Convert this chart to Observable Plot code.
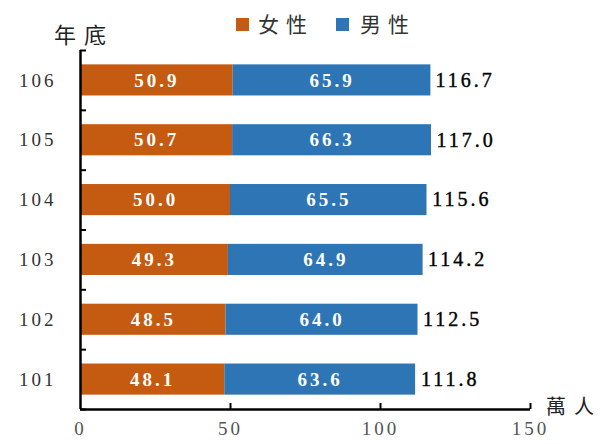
<!DOCTYPE html>
<html><head><meta charset="utf-8">
<script src="https://cdn.jsdelivr.net/npm/d3@7"></script>
<script src="https://cdn.jsdelivr.net/npm/@observablehq/plot@0.6"></script>
<style>
body{margin:0;background:#fff;}
#wrap{position:relative;width:601px;height:444px;overflow:hidden;}
#top{position:relative;height:40px;}
.cjk{font-family:"Noto Sans CJK TC",sans-serif;position:absolute;color:#222;line-height:1;white-space:nowrap;}
.sw{position:absolute;width:13px;height:13px;}
#chart svg text{letter-spacing:3px;}
</style></head><body>
<div id="wrap">
  <div id="top">
    <div class="cjk" style="left:54px;top:22px;font-size:22px;letter-spacing:8px;">年底</div>
    <div class="sw" style="left:236px;top:18px;background:#C55A11;"></div>
    <div class="cjk" style="left:258px;top:13px;font-size:21px;letter-spacing:7px;color:#333;">女性</div>
    <div class="sw" style="left:336px;top:18px;background:#2E75B6;"></div>
    <div class="cjk" style="left:360px;top:13px;font-size:21px;letter-spacing:7px;color:#333;">男性</div>
  </div>
  <div id="chart"></div>
  <div class="cjk" style="left:546px;top:396px;font-size:20px;">萬<span style="margin-left:8px;">人</span></div>
</div>
<script>
const years = [101, 102, 103, 104, 105, 106];
const female = [48.1, 48.5, 49.3, 50.0, 50.7, 50.9];
const male = [63.6, 64.0, 64.9, 65.5, 66.3, 65.9];
const total = [111.8, 112.5, 114.2, 115.6, 117.0, 116.7];
const xTicks = [0, 50, 100, 150];

const data = years.map((y, i) => ({year: y, female: female[i], male: male[i], total: total[i]}));
const half = 0.26;
const edges = [years[0] - 0.5, ...years.map(y => y + 0.5)];

const plot = Plot.plot({
  width: 601, height: 404,
  marginTop: 10, marginBottom: 35, marginLeft: 80, marginRight: 71,
  x: {domain: [0, 150]},
  y: {domain: [years[0] - 0.5, years[years.length - 1] + 0.5]},
  style: {fontFamily: "'Liberation Serif', serif", fontSize: "17px", background: "white", overflow: "visible"},
  marks: [
    Plot.rectX(data, {x1: 0, x2: "female", y1: d => d.year - half, y2: d => d.year + half, fill: "#C55A11"}),
    Plot.rectX(data, {x1: "female", x2: d => d.female + d.male, y1: d => d.year - half, y2: d => d.year + half, fill: "#2E75B6"}),
    Plot.text(data, {x: d => d.female / 2, y: "year", text: d => d.female.toFixed(1), fill: "white", fontWeight: "bold", fontSize: 19}),
    Plot.text(data, {x: d => d.female + d.male / 2, y: "year", text: d => d.male.toFixed(1), fill: "white", fontWeight: "bold", fontSize: 19}),
    Plot.text(data, {x: "total", y: "year", text: d => d.total.toFixed(1), textAnchor: "start", dx: 5, fill: "#000", fontSize: 20, stroke: "#000", strokeWidth: 0.4}),
    Plot.axisY(years, {tickSize: 0, tickPadding: 24, tickFormat: d => String(d), fontSize: 19, fill: "#333", label: null}),
    Plot.axisY(edges, {tickSize: -6, tickFormat: () => "", stroke: "black", strokeWidth: 2, label: null}),
    Plot.axisX(xTicks, {tickSize: 0, tickPadding: 12, fontSize: 19, fill: "#555", label: null}),
    Plot.axisX(xTicks.slice(1), {tickSize: -6, tickFormat: () => "", stroke: "black", strokeWidth: 2, label: null}),
    Plot.ruleX([0], {stroke: "black", strokeWidth: 2.5}),
    Plot.ruleY([edges[0]], {stroke: "black", strokeWidth: 2.5})
  ]
});
document.getElementById("chart").appendChild(plot);
</script>
</body></html>
